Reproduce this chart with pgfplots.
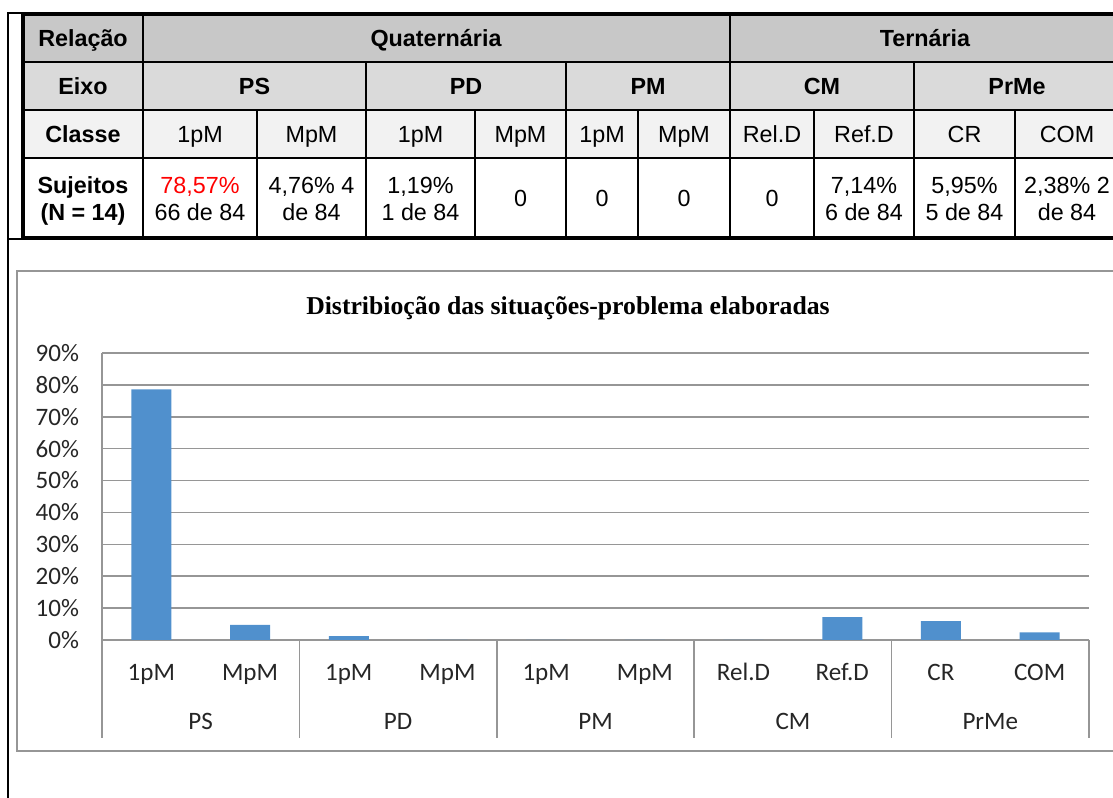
\documentclass[border=0pt]{standalone}
\usepackage{pgfplots}
\pgfplotsset{compat=1.18}
\usepackage{fontspec}
\setmainfont{Liberation Sans}
\newfontfamily\calibri{Carlito}
\newfontfamily\timesf{Liberation Serif}
\definecolor{barblue}{RGB}{80,144,205}
\definecolor{gridgray}{RGB}{150,150,150}
\definecolor{hdrA}{RGB}{200,200,200}
\definecolor{hdrB}{RGB}{218,218,218}
\definecolor{hdrC}{RGB}{242,242,242}
\begin{document}
\begin{tikzpicture}
\path[use as bounding box, clip] (0pt,0pt) rectangle (834.75pt,598.5pt);
\begin{scope}[x=0.75pt,y=-0.75pt,shift={(0pt,598.5pt)}]
  % frame
  \draw[line width=1.5pt] (7.5,13) -- (7.5,800);
  \draw[line width=1.2pt] (7,13) -- (23,13);
  \draw[line width=1.5pt] (7,239.5) -- (1120,239.5);
  % table fills
  \fill[hdrA] (23,14) rectangle (1120,62);
  \fill[hdrB] (23,62) rectangle (1120,110);
  \fill[hdrC] (23,110) rectangle (1120,158);
  % table lines
  \begin{scope}[line width=1.5pt]
    \foreach \yy in {62,110,158} \draw (23,\yy) -- (1120,\yy);
    \foreach \xx in {143,730} \draw (\xx,14) -- (\xx,238);
    \foreach \xx in {366,566,914} \draw (\xx,62) -- (\xx,238);
    \foreach \xx in {257,475,638,814,1015} \draw (\xx,110) -- (\xx,238);
  \end{scope}
  \draw[line width=2.4pt] (23,14) rectangle (1120,238);
  % table text
  \begin{scope}[every node/.style={anchor=base, inner sep=0pt, font=\fontsize{17.5pt}{20pt}\selectfont}]
    \node[font=\fontsize{17.5pt}{20pt}\selectfont\bfseries] at (83,46.3) {Relação};
    \node[font=\fontsize{17.5pt}{20pt}\selectfont\bfseries] at (436,46.3) {Quaternária};
    \node[font=\fontsize{17.5pt}{20pt}\selectfont\bfseries] at (925,46.3) {Ternária};
    \node[font=\fontsize{17.5pt}{20pt}\selectfont\bfseries] at (83,94.3) {Eixo};
    \node[font=\fontsize{17.5pt}{20pt}\selectfont\bfseries] at (254.5,94.3) {PS};
    \node[font=\fontsize{17.5pt}{20pt}\selectfont\bfseries] at (466,94.3) {PD};
    \node[font=\fontsize{17.5pt}{20pt}\selectfont\bfseries] at (648,94.3) {PM};
    \node[font=\fontsize{17.5pt}{20pt}\selectfont\bfseries] at (822,94.3) {CM};
    \node[font=\fontsize{17.5pt}{20pt}\selectfont\bfseries] at (1017,94.3) {PrMe};
    \node[font=\fontsize{17.5pt}{20pt}\selectfont\bfseries] at (83,142.3) {Classe};
    \node at (200,142.3) {1pM};
    \node at (311.5,142.3) {MpM};
    \node at (420.5,142.3) {1pM};
    \node at (520.5,142.3) {MpM};
    \node at (602,142.3) {1pM};
    \node at (684,142.3) {MpM};
    \node at (772,142.3) {Rel.D};
    \node at (864,142.3) {Ref.D};
    \node at (964.5,142.3) {CR};
    \node at (1067,142.3) {COM};
    \node[font=\fontsize{17.5pt}{20pt}\selectfont\bfseries] at (83,193.5) {Sujeitos};
    \node[font=\fontsize{17.5pt}{20pt}\selectfont\bfseries] at (83,220.5) {(N = 14)};
    \node[text=red] at (200,193.5) {78,57\%};
    \node at (200,220.5) {66 de 84};
    \node at (311.5,193.5) {4,76\% 4};
    \node at (311.5,220.5) {de 84};
    \node at (420.5,193.5) {1,19\%};
    \node at (420.5,220.5) {1 de 84};
    \node at (520.5,207) {0};
    \node at (602,207) {0};
    \node at (684,207) {0};
    \node at (772,207) {0};
    \node at (864,193.5) {7,14\%};
    \node at (864,220.5) {6 de 84};
    \node at (964.5,193.5) {5,95\%};
    \node at (964.5,220.5) {5 de 84};
    \node at (1067,193.5) {2,38\% 2};
    \node at (1067,220.5) {de 84};
  \end{scope}
  % chart area border
  \draw[gridgray, line width=1.1pt] (17,271) rectangle (1130,751);
  % title
  \node[anchor=base, inner sep=0pt, font=\timesf\bfseries\fontsize{19.3pt}{22pt}\selectfont] at (568,315) {Distribioção das situações-problema elaboradas};
\end{scope}
\begin{axis}[
  at={(76.5pt,118.5pt)}, anchor=south west,
  scale only axis, width=740.25pt, height=215.25pt,
  xmin=-0.5, xmax=9.5, ymin=0, ymax=90,
  ybar, bar width=30pt,
  axis lines*=left,
  axis line style={draw=gridgray, line width=1.1pt, -},
  ymajorgrids, grid style={draw=gridgray, line width=1.1pt},
  major tick length=0pt,
  ytick={0,10,...,90},
  yticklabel={\pgfmathprintnumber{\tick}\%},
  xtick={0,...,9},
  xticklabels={1pM,MpM,1pM,MpM,1pM,MpM,Rel.D,Ref.D,CR,COM},
  /pgf/number format/assume math mode=true,
  ticklabel style={font=\calibri\fontsize{18.8pt}{20pt}\selectfont, text=black!85},
  yticklabel style={anchor=east, inner sep=0pt, xshift=-17pt},
  xticklabel style={anchor=base, inner sep=0pt, yshift=-30.75pt},
  clip=false,
]
\addplot[draw=none, fill=barblue] coordinates {(0,78.57) (1,4.76) (2,1.19) (3,0) (4,0) (5,0) (6,0) (7,7.14) (8,5.95) (9,2.38)};
\draw[gridgray, line width=1.1pt] (axis cs:-0.5,0) -- ++(0pt,-73.5pt);
\draw[gridgray, line width=1.1pt] (axis cs:1.5,0) -- ++(0pt,-73.5pt);
\draw[gridgray, line width=1.1pt] (axis cs:3.5,0) -- ++(0pt,-73.5pt);
\draw[gridgray, line width=1.1pt] (axis cs:5.5,0) -- ++(0pt,-73.5pt);
\draw[gridgray, line width=1.1pt] (axis cs:7.5,0) -- ++(0pt,-73.5pt);
\draw[gridgray, line width=1.1pt] (axis cs:9.5,0) -- ++(0pt,-73.5pt);
\begin{scope}[every node/.style={anchor=base, inner sep=0pt, font=\calibri\fontsize{18.8pt}{20pt}\selectfont, text=black!85}]
\node at ([yshift=-67.5pt]axis cs:0.5,0) {PS};
\node at ([yshift=-67.5pt]axis cs:2.5,0) {PD};
\node at ([yshift=-67.5pt]axis cs:4.5,0) {PM};
\node at ([yshift=-67.5pt]axis cs:6.5,0) {CM};
\node at ([yshift=-67.5pt]axis cs:8.5,0) {PrMe};
\end{scope}
\end{axis}
\end{tikzpicture}
\end{document}
